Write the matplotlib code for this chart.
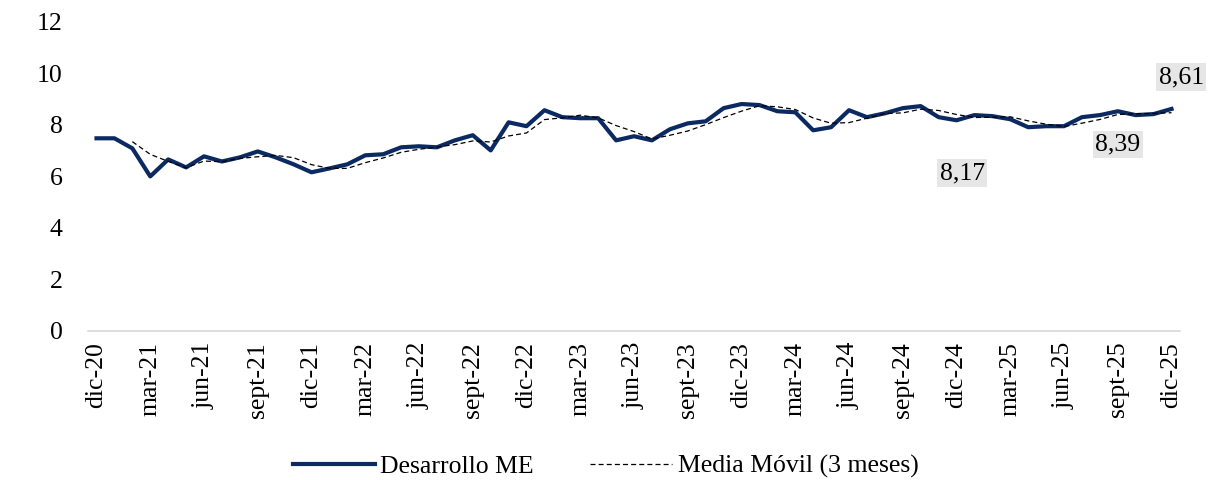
import matplotlib
matplotlib.use("Agg")
import matplotlib.pyplot as plt
import pandas as pd

plt.rcParams['font.family'] = ['Liberation Serif', 'DejaVu Serif']

# monthly values dic-20 .. dic-25
meses = ['ene', 'feb', 'mar', 'abr', 'may', 'jun', 'jul', 'ago', 'sept', 'oct', 'nov', 'dic']
fechas = ['dic-20'] + [f'{m}-{y}' for y in range(21, 26) for m in meses]

desarrollo = [7.47, 7.47, 7.08, 5.99, 6.65, 6.34, 6.77, 6.57, 6.73, 6.96, 6.73, 6.46, 6.15,
              6.30, 6.46, 6.81, 6.85, 7.12, 7.16, 7.12, 7.39, 7.59, 7.00, 8.09, 7.94,
              8.56, 8.29, 8.25, 8.25, 7.39, 7.55, 7.39, 7.82, 8.05, 8.13, 8.64, 8.80,
              8.76, 8.52, 8.48, 7.78, 7.90, 8.56, 8.29, 8.44, 8.64, 8.72, 8.29, 8.17,
              8.37, 8.33, 8.21, 7.90, 7.94, 7.94, 8.29, 8.37, 8.52, 8.37, 8.41, 8.61]

# 3 month moving average of the series
media_movil = pd.Series(desarrollo).rolling(3).mean()

# data labels shown on the chart
etiquetas_fecha = ['dic-24', 'sept-25', 'dic-25']
etiquetas_valor = [8.17, 8.39, 8.61]
etiquetas_offset = [(4, -38), (0, -24), (7, 23)]

x = list(range(len(fechas)))

fig = plt.figure(figsize=(12.11, 4.8), dpi=100)
ax = fig.add_axes([0.0723, 0.311, 0.9025, 0.644])

ax.plot(x, desarrollo, color='#0B2A62', lw=3, label='Desarrollo ME', zorder=3)
ax.plot(x, media_movil, color='black', lw=0.9, ls=(0, (4, 2.5)), label='Media Móvil (3 meses)', zorder=4)

for f, v, off in zip(etiquetas_fecha, etiquetas_valor, etiquetas_offset):
    i = fechas.index(f)
    ax.annotate(f'{v:.2f}'.replace('.', ','), (i, desarrollo[i]), xytext=off,
                textcoords='offset points', ha='center', va='center', fontsize=18.5,
                bbox=dict(boxstyle='square,pad=0.1', fc='#E6E6E6', ec='none'))

ax.set_xlim(-0.5, len(fechas) - 0.5)
ax.set_ylim(0, 12)
ax.set_yticks(range(0, 13, 2))
ax.set_xticks(x[::3])
ax.set_xticklabels(fechas[::3], rotation=90, fontsize=18.5)
ax.tick_params(axis='y', labelsize=18.5, length=0, pad=18)
ax.tick_params(axis='x', length=0, pad=8)

for s in ['top', 'right', 'left']:
    ax.spines[s].set_visible(False)
ax.spines['bottom'].set_color('#D9D9D9')
ax.spines['bottom'].set_linewidth(1.2)

fig.legend(loc='center', bbox_to_anchor=(0.5, 0.028), ncol=2, frameon=False,
           fontsize=18.5, handlelength=3.2, columnspacing=2.2, handletextpad=0.2)

fig.savefig('out.png', dpi=100)
